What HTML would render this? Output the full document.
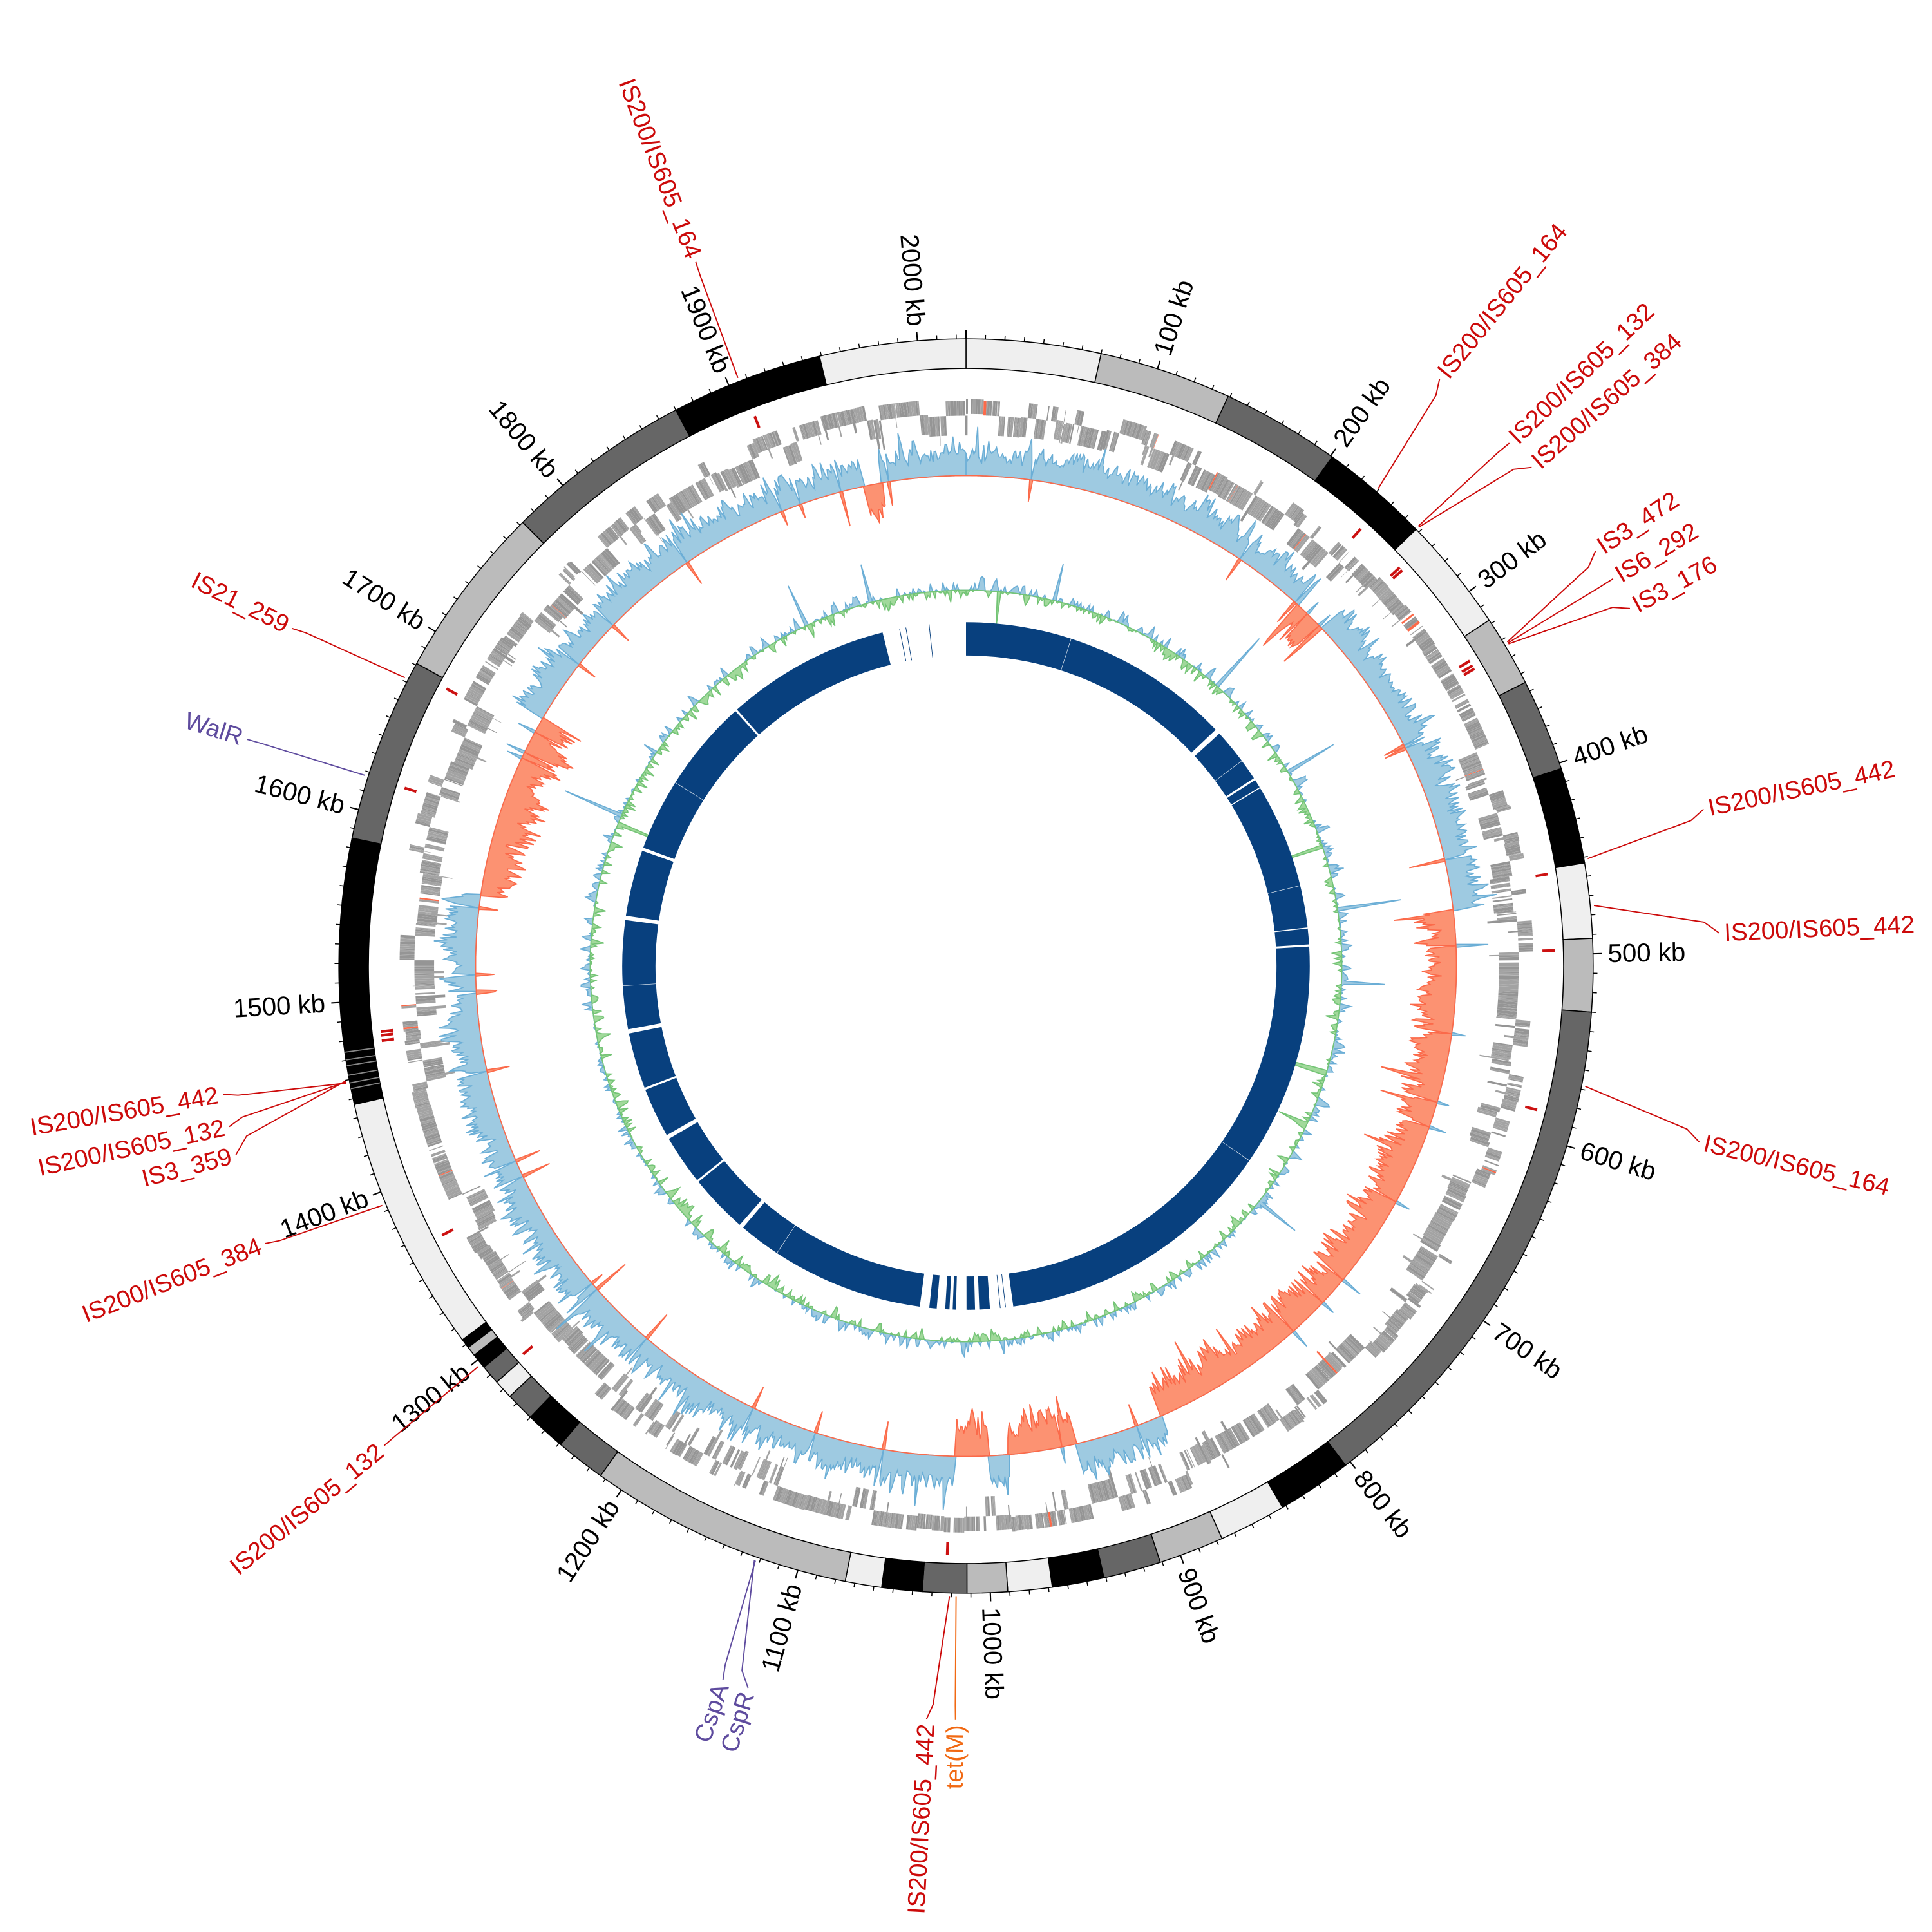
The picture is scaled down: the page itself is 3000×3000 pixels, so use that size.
<!DOCTYPE html>
<html><head><meta charset="utf-8">
<style>html,body{margin:0;padding:0;background:#fff}svg{display:block}</style>
</head><body>
<svg id="s" xmlns="http://www.w3.org/2000/svg" width="3000" height="3000" viewBox="0 0 1568 1568" font-family="'Liberation Sans', sans-serif">
<rect width="1568" height="1568" fill="#fff"/>
<g id="g"></g>
</svg>
<script>
(function(){
var G=2025,cx=784,cy=784,out=[];
function ang(kb){return kb/G*2*Math.PI;}
function P(r,kb){var a=ang(kb);return [cx+r*Math.sin(a),cy-r*Math.cos(a)];}
function f(n){return n.toFixed(2);}
function seg(r1,r2,k1,k2,fill,extra){
  var a=P(r2,k1),b=P(r2,k2),c=P(r1,k2),d=P(r1,k1);var la=(k2-k1)/G>0.5?1:0;
  return '<path d="M'+f(a[0])+' '+f(a[1])+'A'+r2+' '+r2+' 0 '+la+' 1 '+f(b[0])+' '+f(b[1])+'L'+f(c[0])+' '+f(c[1])+'A'+r1+' '+r1+' 0 '+la+' 0 '+f(d[0])+' '+f(d[1])+'Z" fill="'+fill+'" '+(extra||'')+'/>';
}
var seed=12345;function rnd(){seed=(seed*1103515245+12345)%2147483648;return seed/2147483648;}

var W='#efefef',L='#bbbbbb',D='#666666',B='#000000';
var cont=[[0,70,W],[70,139,L],[139,201,D],[201,258,B],[258,318,W],[318,355,L],[355,403,D],[403,453,B],[453,492,W],[492,530,L],[530,803,D],[803,842,B],[842,877,W],[877,911,L],[911,941,D],[941,968,B],[968,991,W],[991,1012,L],[1012,1035,D],[1035,1056,B],[1056,1075,W],[1075,1213,L],[1213,1239,D],[1239,1260,B],[1260,1275,D],[1275,1285,W],[1285,1295,D],[1295,1303,B],[1303,1308,L],[1308,1313,B],[1313,1447,W],[1447,1585,B],[1585,1681,D],[1681,1772,L],[1772,1870,D],[1870,1949,B],[1949,2025,W]];
cont.forEach(function(c){out.push(seg(485,509,c[0],c[1],c[2],'stroke="#000" stroke-width="0.8"'));});
[1455,1458,1462,1467,1470,1474].forEach(function(k){out.push(seg(485,509,k,k+0.6,'#888'));});
for(var k=0;k<G;k+=10){var maj=(k%100==0);var a=P(509,k),b=P(maj?516:512.5,k);
 out.push('<line x1="'+f(a[0])+'" y1="'+f(a[1])+'" x2="'+f(b[0])+'" y2="'+f(b[1])+'" stroke="#000" stroke-width="'+(maj?1.1:0.8)+'"/>');}
function rlabel(kb,r,txt,col,fs){
  var deg=kb/G*360,p=P(r,kb),rot,anc;
  if(deg<=180){rot=deg-90;anc='start';}else{rot=deg+90;anc='end';}
  out.push('<text x="'+f(p[0])+'" y="'+f(p[1])+'" transform="rotate('+f(rot)+' '+f(p[0])+' '+f(p[1])+')" text-anchor="'+anc+'" dominant-baseline="central" font-size="'+fs+'" fill="'+col+'">'+txt+'</text>');
}
for(var k=100;k<G;k+=100){rlabel(k,521,k+' kb','#000',21);}

var pos=0,strand=1,off=0;
while(pos<G){var len=0.2+rnd()*1.4;if(rnd()<0.07)strand=-strand;if(rnd()<0.05)off=(rnd()-0.5)*8;
 var gap=rnd()<0.93?0.03:rnd()*2.5;
 var r1,r2;if(strand>0){r1=448+off*0.5;r2=460+off*0.5;}else{r1=432+off*0.5;r2=448+off*0.5;}
 if(rnd()<0.04){r1-=8;}
 var col=rnd()<0.008?'#fb6a4a':(rnd()<0.5?'#a3a3a3':'#959595');
 out.push(seg(r1,r2,pos,pos+len,col));
 pos+=len+gap;}

var isk=[1906,236,266,268,330,333,335,455,497,585,1022,1286,1365,1477,1480,1482,1676,1617];
isk.forEach(function(k){out.push(seg(468,478,k,k+1.5,'#cc1111'));});

var prof=[[0,240,1],[240,262,-1],[262,470,1],[470,880,-1],[880,940,1],[940,985,-1],[985,998,1],[998,1020,-1],[1020,1035,1],[1035,1565,1],[1565,1690,-1],[1690,1958,1],[1958,1970,-1],[1970,2025,1]];
function sgn(k){for(var i=0;i<prof.length;i++)if(k>=prof[i][0]&&k<prof[i][1])return prof[i][2];return 1;}
var vals=[],m=0.5;for(var k=0;k<=G;k+=1){var s=sgn(k);m=0.5*m+0.5*rnd();var v=s*(0.25+0.75*Math.pow(m,0.8))*(0.55+0.45*rnd());if(rnd()<0.02)v=-v*0.8;if(rnd()<0.05)v*=1.4;vals.push(v);}
function area(base,arr,sc1,sc2,pos,fill,stroke){
  var d='',first=true;
  for(var i=0;i<arr.length;i++){var v=arr[i];v=pos?Math.max(v,0):Math.min(v,0);var r=base+(v>0?v*sc1:v*sc2);var p=P(r,i*G/(arr.length-1));d+=(first?'M':'L')+f(p[0])+' '+f(p[1]);first=false;}
  for(var i=arr.length-1;i>=0;i--){var p=P(base,i*G/(arr.length-1));d+='L'+f(p[0])+' '+f(p[1]);}
  out.push('<path d="'+d+'Z" fill="'+fill+'" stroke="'+stroke+'" stroke-width="0.9"/>');
}
area(398,vals,38,46,true,'#9ecae1','#6baed6');
area(398,vals,38,46,false,'#fc9272','#fb6a4a');

var gv=[],mm=0;for(var k=0;k<=G;k+=1.5){mm=0.6*mm+0.4*(rnd()-0.5)*2;var v=mm*0.9+(rnd()-0.5)*0.9;if(rnd()<0.015)v=(rnd()<0.6?-1:1)*(2+rnd()*2.5);gv.push(v);}
area(305,gv,12,12,true,'#9ecae1','#6baed6');
area(305,gv,12,12,false,'#a1d99b','#74c476');

var gaps=[[1946,2025],[262,267],[486,488],[470,471],[968,990],[1000,1004],[1012,1022],[1025,1028],[1032,1040],[1047,1056],[1349,1353],[1455,1459],[1562,1566],[1629,1632],[1788,1790],[1240,1244],[1400,1402],[1300,1302],[320,322],[330,331]];
gaps.sort(function(a,b){return a[0]-b[0];});
var st=0;gaps.forEach(function(g){if(g[0]>st)out.push(seg(252,279,st,g[0],'#08407e'));st=g[1];});
if(st<G)out.push(seg(252,279,st,G,'#08407e'));
[1962,1968,1990,975,980,1008,1010,1043].forEach(function(k){out.push(seg(252,279,k,k+0.6,'#08407e'));});
[100,300,430,700,1200,1500,1700].forEach(function(k){out.push(seg(252,279,k,k+0.4,'#ffffff'));});

var RED='#cc0a0a',PUR='#5e4b9e',ORA='#f16913';
function lead(pts,col){var d='';pts.forEach(function(p,i){var q=P(p[0],p[1]);d+=(i?'L':'M')+f(q[0])+' '+f(q[1]);});out.push('<path d="'+d+'" fill="none" stroke="'+col+'" stroke-width="1"/>');}
function kb(deg){return deg/360*G;}
var ann=[
 [338.8,339,'IS200/IS605_164',RED],
 [40.8,38.9,'IS200/IS605_164',RED],
 [45.8,46.1,'IS200/IS605_132',RED],
 [45.9,48.6,'IS200/IS605_384',RED],
 [59.1,56.6,'IS3_472',RED],
 [59.2,59.1,'IS6_292',RED],
 [59.3,61.7,'IS3_176',RED],
 [80.2,78,'IS200/IS605_442',RED],
 [84.5,87.5,'IS200/IS605_442',RED],
 [101,103.5,'IS200/IS605_164',RED],
 [181.5,183,'IS200/IS605_442',RED],
 [180.9,180.8,'tet(M)',ORA],
 [199.5,198.8,'CspA',PUR],
 [199.6,196.8,'CspR',PUR],
 [230.6,230.5,'IS200/IS605_132',RED],
 [247.7,248.4,'IS200/IS605_384',RED],
 [259.3,260.2,'IS200/IS605_442',RED],
 [259.4,257.7,'IS200/IS605_132',RED],
 [259.5,255.5,'IS3_359',RED],
 [287.6,287.5,'WalR',PUR],
 [297.2,296.6,'IS21_259',RED]
];
ann.forEach(function(a){lead([[512,kb(a[0])],[600,kb(a[0])+(a[1]-a[0])*0.7/360*G],[612,kb(a[1])]],a[3]);rlabel(kb(a[1]),616,a[2],a[3],20);});

document.getElementById('g').innerHTML=out.join('');
})();
</script>
</body></html>
